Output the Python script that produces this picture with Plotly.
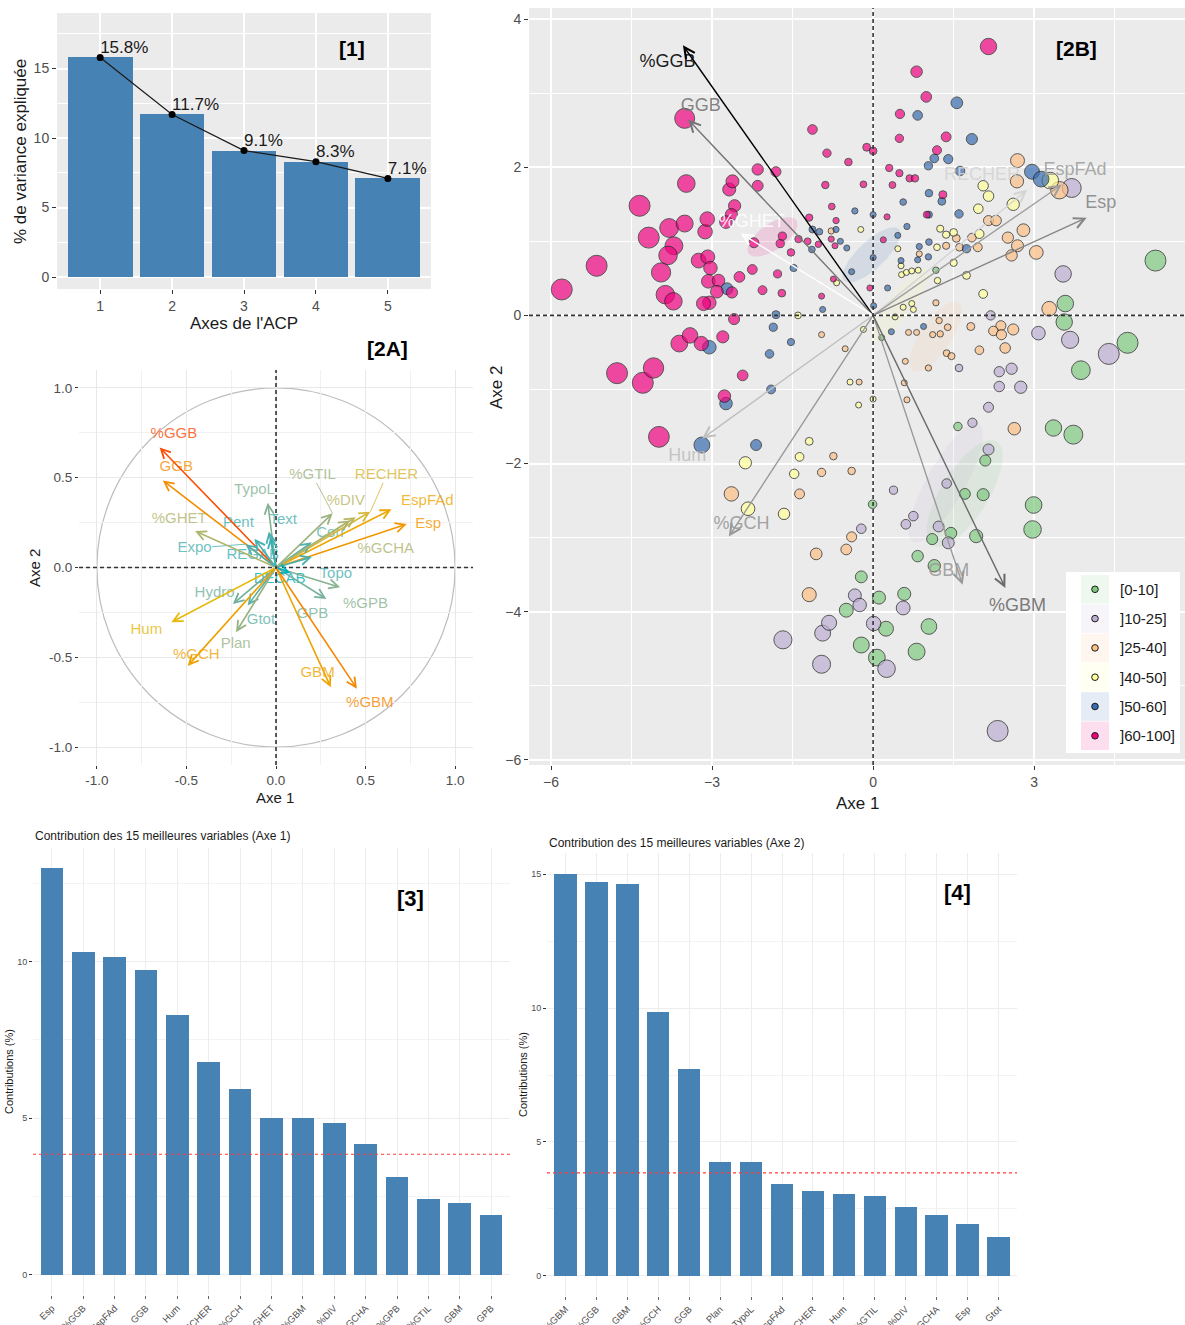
import numpy as np
import plotly.graph_objects as go

W, H = 1185, 1325
FONT = "Liberation Sans, Arial, sans-serif"

# ---------------- data ----------------
# [1] scree plot
eig_axes = [1, 2, 3, 4, 5]
eig_pct = [15.8, 11.7, 9.1, 8.3, 7.1]

# [2A] variable coordinates on Axe 1 / Axe 2
var_names = ["%GGB", "GGB", "%GHET", "Expo", "Pent", "TypoL", "Text", "REGAB",
             "%GTIL", "RECHER", "%DIV", "EspFAd", "Esp", "Corr", "%GCHA", "Topo",
             "%GPB", "GPB", "DECAB", "Hydro", "Gtot", "Plan", "Hum", "%GCH",
             "GBM", "%GBM"]
var_x = [-0.650, -0.632, -0.452, -0.170, -0.120, -0.046, -0.040, -0.030,
         0.316, 0.527, 0.445, 0.645, 0.730, 0.200, 0.413, 0.200,
         0.358, 0.281, 0.080, -0.241, -0.158, -0.223, -0.584, -0.493,
         0.306, 0.452]
var_y = [0.669, 0.485, 0.203, 0.130, 0.160, 0.360, 0.200, 0.170,
         0.302, 0.311, 0.280, 0.324, 0.242, 0.140, 0.262, 0.058,
         -0.110, -0.175, -0.030, -0.203, -0.211, -0.360, -0.305, -0.548,
         -0.667, -0.675]

# [3] contributions to Axe 1
contrib1_names = ["Esp", "%GGB", "EspFAd", "GGB", "Hum", "RECHER", "%GCH", "%GHET",
                  "%GBM", "%DIV", "%GCHA", "%GPB", "%GTIL", "GBM", "GPB"]
contrib1_vals = [12.98, 10.31, 10.15, 9.73, 8.31, 6.78, 5.92, 4.99,
                 4.99, 4.83, 4.16, 3.13, 2.43, 2.29, 1.92]

# [4] contributions to Axe 2
contrib2_names = ["%GBM", "%GGB", "GBM", "%GCH", "GGB", "Plan", "TypoL", "EspFAd",
                  "RECHER", "Hum", "%GTIL", "%DIV", "%GCHA", "Esp", "Gtot"]
contrib2_vals = [15.0, 14.72, 14.63, 9.87, 7.73, 4.26, 4.26, 3.45,
                 3.18, 3.05, 3.00, 2.57, 2.26, 1.92, 1.47]
contrib_expected = 100 / 26

# [2B] individuals, grouped by class
groups = ["[0-10]", "]10-25]", "]25-40]", "]40-50]", "]50-60]", "]60-100]"]
group_colors = ["#7FC97F", "#BEAED4", "#FDC086", "#FFFF99", "#386CB0", "#F0027F"]

g0_x = [5.26, 3.58, 3.56, 1.17, -0.50, -0.22, -0.22, 4.74, 3.87, 3.36, 3.73, 1.58, 2.09, 2.05, 1.71,
        2.99, 2.97, 1.92, 1.45, 1.10, 0.83, 1.14, -0.01, 0.11, 0.58, 1.04, 0.24, 0.81, 0.07, 0.16]
g0_y = [0.74, 0.16, -0.09, 0.61, -3.98, -3.53, -4.45, -0.37, -0.74, -1.52, -1.61, -1.50, -1.96, -2.42, -2.41,
        -2.56, -2.89, -2.98, -2.94, -3.02, -3.25, -3.38, -2.55, -3.81, -3.76, -4.20, -4.23, -4.54, -4.62, -0.30]

g1_x = [3.70, 3.54, 2.19, -1.68, -0.96, -0.94, -0.82, -0.34, -0.25, -0.22, 3.08, 3.67, 4.39, 2.35, 2.58,
        2.35, 2.75, 2.15, 1.85, 1.60, 2.15, 1.37, 0.38, 0.75, 0.61, 1.22, 1.40, 0.56, 0.01, 0.25, 2.32]
g1_y = [1.72, 0.56, 0.00, -4.38, -4.71, -4.29, -4.15, -3.78, -3.91, -2.88, -0.24, -0.33, -0.52, -0.76, -0.72,
        -0.96, -0.97, -1.24, -1.45, -0.71, -1.81, -2.27, -2.36, -2.71, -2.82, -2.85, -3.07, -3.95, -4.16, -4.77, -5.61]

g2_x = [-0.78, 2.69, 2.68, 3.47, 2.15, 2.29, 2.80, 2.51, 2.69, 2.58, 3.04, 1.84, 1.95, 1.61, 1.55, 1.36, 0.86,
        1.17, 3.28, 1.23, -2.64, -1.37, -0.74, -0.96, -0.40, -1.06, -0.50, -0.40, -1.19, -0.96, -0.52, -0.26,
        2.61, 2.38, 2.24, 2.39, 2.46, 1.98, 1.82, 1.39, 1.25, 1.11, 1.37, 1.46, 1.03, 0.60, 0.58, 0.63, 2.63,
        0.66, 0.81]
g2_y = [1.14, 2.09, 1.81, 1.69, 1.28, 1.28, 1.15, 1.05, 0.94, 0.81, 0.85, 1.05, 0.92, 0.92, 1.04, 0.94, 0.83,
        0.17, 0.09, -0.07, -2.41, -2.41, -1.90, -2.12, -2.10, -3.22, -3.16, -2.99, -3.77, -0.26, -0.45, -0.90,
        -0.19, -0.14, -0.21, -0.26, -0.44, -0.47, -0.15, -0.16, -0.25, -0.26, -0.51, -0.55, -0.71, -0.62, -0.91,
        -1.14, -1.53, -0.23, -0.23]

g3_x = [-0.23, -0.68, -1.40, 2.05, 2.15, 1.96, 2.61, 3.30, 1.25, 1.36, 1.50, 1.98, 1.19, 1.50, 1.20, 1.74,
        2.05, 0.46, 0.52, 0.53, 0.62, 0.72, 0.84, 0.56, 0.72, 0.41, 0.75, -2.38, -2.33, -1.66, -1.19, -1.37,
        -1.47, -0.43, -0.27, -0.18, 0.00]
g3_y = [1.16, 0.44, 0.00, 1.75, 1.61, 1.44, 1.50, 1.82, 1.17, 1.09, 1.12, 1.10, 0.92, 0.71, 0.47, 0.54,
        0.29, 0.90, 0.67, 0.55, 0.58, 0.60, 0.61, 0.11, 0.16, -0.02, 0.08, -1.99, -2.61, -2.68, -1.70, -1.91,
        -2.14, -0.90, -1.21, -0.19, -1.13]

g4_x = [-2.72, -1.13, -1.00, -0.69, -0.61, -0.49, -1.14, -0.34, 0.00, -1.48, -0.40, -1.81, -0.94, 0.00,
        1.56, 0.83, 1.84, 1.14, 1.40, 1.03, 1.62, 2.96, 3.13, 1.04, 1.28, 0.56, 1.04, 1.60, 0.63, 0.46,
        0.86, 1.04, 1.03, 0.83, 0.52, 1.74, 0.27, 0.01, -3.05, -2.74, -3.19, -2.18, -1.90, -1.93, -1.86,
        -1.53, 0.94, 0.34]
g4_y = [0.36, 1.16, 1.13, 1.16, 1.00, 0.91, 0.89, 1.41, 1.36, 0.64, 0.59, 0.01, 0.08, 0.78,
        2.87, 2.70, 2.38, 2.12, 2.11, 2.02, 1.95, 1.94, 1.84, 1.65, 1.54, 1.53, 1.36, 1.37, 1.20, 1.08,
        0.93, 0.99, 0.79, 0.75, 0.74, 0.90, 0.37, 0.13, -0.43, -1.19, -1.75, -1.75, -1.00, -0.52, -0.16,
        -0.36, -0.15, -0.22]

g5_x = [-5.80, -5.15, -4.35, -4.18, -3.80, -3.51, -3.48, -3.51, -3.71, -3.82, -3.95, -3.87, -3.72, -3.25,
        -3.08, -3.03, -3.07, -2.88, -2.91, -3.05, -3.16, -3.13, -3.09, -2.68, -2.62, -2.58, -2.64, -2.74,
        -2.15, -2.15, -1.81, -1.13, -0.86, -0.46, -0.89, -0.18, -0.77, -1.19, -0.69, -2.22, -2.49, -2.25,
        -2.06, -1.70, -1.78, -2.59, -2.63, -1.73, -1.69, -1.53, -1.39, -1.22, -1.02, -0.78, -0.71, -0.74,
        -0.96, -0.06, -0.12, 0.00, 2.15, 0.81, 0.99, 0.50, 0.49, 1.36, 1.19, 0.30, 0.49, 0.36, 0.68, 0.78,
        1.30, 0.26, 1.00, 0.19, -4.77, -4.29, -4.09, -3.61, -3.41, -3.20, -2.80, -2.43, -2.77, -3.99]
g5_y = [0.35, 0.67, 1.48, 1.05, 1.18, 1.24, 1.78, 2.66, 0.94, 0.81, 0.58, 0.28, 0.19, 0.74,
        0.79, 0.64, 0.46, 0.47, 0.32, 0.17, 0.16, 1.13, 1.30, 1.70, 1.81, 1.48, 1.36, 1.26,
        1.97, 1.75, 1.94, 2.51, 2.19, 2.07, 1.76, 1.77, 1.47, 1.32, 1.28, 0.98, 0.52, 0.62,
        0.34, 0.30, 0.56, -0.05, 0.31, 0.97, 1.07, 0.85, 1.03, 1.00, 0.96, 1.03, 0.94, 0.49,
        0.26, 0.37, 2.27, 2.22, 3.63, 3.29, 2.95, 2.72, 2.39, 2.41, 2.23, 1.99, 1.92, 1.76, 1.85, 1.85,
        1.63, 1.33, 1.36, 1.02, -0.78, -0.91, -0.71, -0.38, -0.27, -0.38, -0.29, -0.81, -1.09, -1.64]

group_x = [g0_x, g1_x, g2_x, g3_x, g4_x, g5_x]
group_y = [g0_y, g1_y, g2_y, g3_y, g4_y, g5_y]

# variables drawn on the biplot and the scaling of their arrows
biplot_vars = ["%GGB", "GGB", "%GHET", "RECHER", "EspFAd", "Esp", "Hum", "%GCH", "GBM", "%GBM"]
biplot_scale = 5.45

# label placement (repelled positions)
label_pos_2a = {
    "%GGB": (-0.57, 0.74), "GGB": (-0.557, 0.556), "%GHET": (-0.54, 0.268), "Expo": (-0.455, 0.108),
    "Pent": (-0.21, 0.245), "TypoL": (-0.12, 0.43), "Text": (0.04, 0.262), "REGAB": (-0.13, 0.068),
    "%GTIL": (0.204, 0.513), "RECHER": (0.617, 0.513), "%DIV": (0.39, 0.37), "EspFAd": (0.845, 0.37),
    "Esp": (0.85, 0.24), "Corr": (0.306, 0.19), "%GCHA": (0.613, 0.104), "Topo": (0.334, -0.035),
    "%GPB": (0.5, -0.206), "GPB": (0.204, -0.262), "DECAB": (0.02, -0.065), "Hydro": (-0.343, -0.141),
    "Gtot": (-0.084, -0.296), "Plan": (-0.225, -0.43), "Hum": (-0.724, -0.348), "%GCH": (-0.445, -0.49),
    "GBM": (0.232, -0.589), "%GBM": (0.524, -0.755),
}
leader_2a = ["%GTIL", "RECHER", "Expo"]
label_pos_2b = {
    "%GGB": (-3.83, 3.42), "GGB": (-3.21, 2.82), "%GHET": (-2.26, 1.26), "RECHER": (2.03, 1.89),
    "EspFAd": (3.76, 1.96), "Esp": (4.24, 1.51), "Hum": (-3.46, -1.90), "%GCH": (-2.45, -2.82),
    "GBM": (1.41, -3.46), "%GBM": (2.69, -3.93),
}

# ---------------- colour helpers ----------------
_M = np.array([[0.4124, 0.3576, 0.1805], [0.2126, 0.7152, 0.0722], [0.0193, 0.1192, 0.9505]])
_WP = np.array([0.95047, 1.0, 1.08883])


def hex_rgb(h):
    return np.array([int(h[i:i + 2], 16) for i in (1, 3, 5)]) / 255.0


def rgb_to_lab(rgb):
    c = np.where(rgb <= 0.04045, rgb / 12.92, ((rgb + 0.055) / 1.055) ** 2.4)
    xyz = _M @ c / _WP
    f = np.where(xyz > 0.008856, np.cbrt(xyz), 7.787 * xyz + 16 / 116)
    return np.array([116 * f[1] - 16, 500 * (f[0] - f[1]), 200 * (f[1] - f[2])])


def lab_to_rgb(lab):
    L, a, b = lab
    fy = (L + 16) / 116
    f = np.array([fy + a / 500, fy, fy - b / 200])
    xyz = np.where(f ** 3 > 0.008856, f ** 3, (f - 16 / 116) / 7.787) * _WP
    c = np.clip(np.linalg.inv(_M) @ xyz, 0, 1)
    return np.clip(np.where(c <= 0.0031308, 12.92 * c, 1.055 * c ** (1 / 2.4) - 0.055), 0, 1)


def gradient(t, stops):
    labs = [rgb_to_lab(hex_rgb(s)) for s in stops]
    seg = np.clip(t, 0, 1) * (len(stops) - 1)
    i = min(int(seg), len(stops) - 2)
    u = seg - i
    return lab_to_rgb((1 - u) * labs[i] + u * labs[i + 1]) * 255


def rgba(rgb, a=1.0):
    return f"rgba({int(round(rgb[0]))},{int(round(rgb[1]))},{int(round(rgb[2]))},{a})"


def hex_rgba(h, a):
    r, g, b = (hex_rgb(h) * 255).astype(int)
    return f"rgba({r},{g},{b},{a})"


# ---------------- figure ----------------
fig = go.Figure()
annotations = []
shapes = []


def dom_x(a, b):
    return [a / W, b / W]


def dom_y(top, bottom):
    return [1 - bottom / H, 1 - top / H]


def paper_text(txt, x, y, size, angle=0, color="#000000", xanchor="center", bold=False):
    annotations.append(dict(text=f"<b>{txt}</b>" if bold else txt, x=x / W, y=1 - y / H,
                            xref="paper", yref="paper", showarrow=False, textangle=angle,
                            xanchor=xanchor, yanchor="middle",
                            font=dict(family=FONT, size=size, color=color)))


ZERO_DASH = "4px,3px"

# ---- [1] scree plot ----
fig.add_trace(go.Bar(x=eig_axes, y=eig_pct, width=0.9, marker=dict(color="#4682B4", line=dict(width=0)),
                     xaxis="x", yaxis="y", hoverinfo="skip"))
fig.add_trace(go.Scatter(x=eig_axes, y=eig_pct, mode="lines+markers",
                         line=dict(color="#1a1a1a", width=1.2), marker=dict(color="#000000", size=7),
                         xaxis="x", yaxis="y", hoverinfo="skip"))
fig.add_trace(go.Scatter(x=eig_axes, y=eig_pct, mode="text", text=[f"{v}%" for v in eig_pct],
                         textposition="top right", textfont=dict(family=FONT, size=17, color="#1a1a1a"),
                         xaxis="x", yaxis="y", hoverinfo="skip"))
shapes.append(dict(type="rect", xref="x domain", yref="y domain", x0=0, x1=1, y0=0, y1=1,
                   fillcolor="#EBEBEB", line=dict(width=0), layer="below"))

# ---- [2A] correlation circle ----
cos2 = np.array(var_x) ** 2 + np.array(var_y) ** 2
t_var = (cos2 - cos2.min()) / (cos2.max() - cos2.min())
var_rgb = [gradient(t, ["#00AFBB", "#E7B800", "#FC4E07"]) for t in t_var]

shapes.append(dict(type="circle", xref="x2", yref="y2", x0=-1, x1=1, y0=-1, y1=1,
                   line=dict(color="#BDBDBD", width=1.2), layer="below"))
shapes.append(dict(type="line", xref="x2", yref="y2 domain", x0=0, x1=0, y0=0, y1=1,
                   line=dict(color="#333333", width=1.6, dash=ZERO_DASH)))
shapes.append(dict(type="line", xref="x2 domain", yref="y2", x0=0, x1=1, y0=0, y1=0,
                   line=dict(color="#333333", width=1.6, dash=ZERO_DASH)))

for name, x, y, rgb in zip(var_names, var_x, var_y, var_rgb):
    annotations.append(dict(x=x, y=y, ax=0, ay=0, xref="x2", yref="y2", axref="x2", ayref="y2",
                            text="", showarrow=True, arrowhead=5, arrowsize=1.15, arrowwidth=1.6,
                            arrowcolor=rgba(rgb), standoff=0, startstandoff=0))
    if name in leader_2a:
        lx, ly = label_pos_2a[name]
        dx, dy = x - lx, y - ly
        hw = 0.5 * len(name) * 0.58 * 15 / 179.5
        hh = 0.5 * 15 / 179.5
        k = min(hw / abs(dx) if dx else 9, hh / abs(dy) if dy else 9)
        fig.add_trace(go.Scatter(x=[lx + k * dx, x], y=[ly + k * dy, y], mode="lines",
                                 line=dict(color=rgba(rgb, 0.8), width=1), xaxis="x2", yaxis="y2",
                                 hoverinfo="skip"))

fig.add_trace(go.Scatter(x=[label_pos_2a[n][0] for n in var_names], y=[label_pos_2a[n][1] for n in var_names],
                         mode="text", text=var_names,
                         textfont=dict(family=FONT, size=15, color=[rgba(c, 0.8) for c in var_rgb]),
                         xaxis="x2", yaxis="y2", hoverinfo="skip"))

# ---- [2B] biplot ----
shapes.append(dict(type="rect", xref="x3 domain", yref="y3 domain", x0=0, x1=1, y0=0, y1=1,
                   fillcolor="#EBEBEB", line=dict(width=0), layer="below"))

chi2_95 = 5.991
theta = np.linspace(0, 2 * np.pi, 80)
for gx, gy, col in zip(group_x, group_y, group_colors):
    pts = np.column_stack([gx, gy])
    m = pts.mean(axis=0)
    L = np.linalg.cholesky(np.cov(pts.T))
    ell = m[:, None] + np.sqrt(chi2_95 / len(pts)) * (L @ np.vstack([np.cos(theta), np.sin(theta)]))
    fig.add_trace(go.Scatter(x=ell[0], y=ell[1], mode="lines", fill="toself", fillcolor=hex_rgba(col, 0.13),
                             line=dict(width=0), xaxis="x3", yaxis="y3", hoverinfo="skip"))

for gx, gy, col in zip(group_x, group_y, group_colors):
    ax_, ay_ = np.array(gx), np.array(gy)
    sizes = np.clip(5 + 0.9 * ax_ ** 2 + 0.55 * ay_ ** 2, 6, 21)
    fig.add_trace(go.Scatter(x=gx, y=gy, mode="markers",
                             marker=dict(color=col, size=sizes, line=dict(color="#1a1a1a", width=1)),
                             xaxis="x3", yaxis="y3", hoverinfo="skip"))

bx = np.array([var_x[var_names.index(n)] for n in biplot_vars])
by = np.array([var_y[var_names.index(n)] for n in biplot_vars])
bc = bx ** 2 + by ** 2
tb = (bc - bc.min()) / (bc.max() - bc.min())
b_grey = [255 * (1 - t) ** 0.8 for t in tb]
for n, x, y, g in zip(biplot_vars, bx, by, b_grey):
    annotations.append(dict(x=biplot_scale * x, y=biplot_scale * y, ax=0, ay=0, xref="x3", yref="y3",
                            axref="x3", ayref="y3", text="", showarrow=True, arrowhead=5, arrowsize=1.5,
                            arrowwidth=1.4, arrowcolor=rgba([g, g, g]), standoff=0, startstandoff=0))
fig.add_trace(go.Scatter(x=[label_pos_2b[n][0] for n in biplot_vars], y=[label_pos_2b[n][1] for n in biplot_vars],
                         mode="text", text=biplot_vars,
                         textfont=dict(family=FONT, size=18, color=[rgba([g, g, g], 0.9) for g in b_grey]),
                         xaxis="x3", yaxis="y3", hoverinfo="skip"))

shapes.append(dict(type="line", xref="x3", yref="y3 domain", x0=0, x1=0, y0=0, y1=1,
                   line=dict(color="#333333", width=1.6, dash=ZERO_DASH)))
shapes.append(dict(type="line", xref="x3 domain", yref="y3", x0=0, x1=1, y0=0, y1=0,
                   line=dict(color="#333333", width=1.6, dash=ZERO_DASH)))

# legend of the biplot
shapes.append(dict(type="rect", xref="paper", yref="paper", x0=1066 / W, x1=1180 / W,
                   y0=1 - 753 / H, y1=1 - 572 / H, fillcolor="white", line=dict(width=0)))
for i, (g, col) in enumerate(zip(groups, group_colors)):
    yc = 589.3 + 29.3 * i
    shapes.append(dict(type="rect", xref="paper", yref="paper", x0=1081 / W, x1=1109 / W,
                       y0=1 - (yc + 14.3) / H, y1=1 - (yc - 14.3) / H,
                       fillcolor=hex_rgba(col, 0.13), line=dict(width=0)))
    shapes.append(dict(type="circle", xref="paper", yref="paper", x0=(1095 - 3.3) / W, x1=(1095 + 3.3) / W,
                       y0=1 - (yc + 3.3) / H, y1=1 - (yc - 3.3) / H,
                       fillcolor=col, line=dict(color="#1a1a1a", width=1)))
    paper_text(g, 1118, yc, 15, xanchor="left", color="#1a1a1a")

# ---- [3] and [4] contribution bars ----
fig.add_trace(go.Bar(x=contrib1_names, y=contrib1_vals, width=0.72, marker=dict(color="#4682B4", line=dict(width=0)),
                     xaxis="x4", yaxis="y4", hoverinfo="skip"))
fig.add_trace(go.Bar(x=contrib2_names, y=contrib2_vals, width=0.72, marker=dict(color="#4682B4", line=dict(width=0)),
                     xaxis="x5", yaxis="y5", hoverinfo="skip"))
for ax in ("4", "5"):
    shapes.append(dict(type="line", xref=f"x{ax} domain", yref=f"y{ax}", x0=0, x1=1,
                       y0=contrib_expected, y1=contrib_expected,
                       line=dict(color="#FF3B3B", width=1.2, dash="3px,3px")))

# ---------------- axes ----------------
tick_grey = "#4D4D4D"


def gg_axis(domain, rng, tickvals, anchor, ticktext=None, gridcolor="white", gridwidth=1.6,
            minor=None, minorcolor=None, minorwidth=0.8, size=14, ticklen=4):
    d = dict(domain=domain, range=rng, tickmode="array", tickvals=tickvals, anchor=anchor,
             ticks="outside", ticklen=ticklen, tickwidth=1, tickcolor="#333333", automargin=False,
             showgrid=True, gridcolor=gridcolor, gridwidth=gridwidth, zeroline=False, showline=False,
             tickfont=dict(family=FONT, size=size, color=tick_grey), fixedrange=True)
    if ticktext is not None:
        d["ticktext"] = ticktext
    if minor is not None:
        d["minor"] = dict(tickmode="array", tickvals=minor, showgrid=True,
                          gridcolor=minorcolor or gridcolor, gridwidth=minorwidth, ticks="")
    return d


def cat_axis(domain, anchor, cats):
    return dict(domain=domain, range=[-0.6, 14.6], anchor=anchor, type="category",
                categoryorder="array", categoryarray=cats, tickangle=-45, automargin=False,
                ticks="outside", ticklen=3, tickcolor="#666666", showgrid=True, gridcolor="#EDEDED",
                gridwidth=1, zeroline=False, tickfont=dict(family=FONT, size=9.5, color=tick_grey),
                fixedrange=True)


circ_ticks = [-1, -0.5, 0, 0.5, 1]
circ_text = ["-1.0", "-0.5", "0.0", "0.5", "1.0"]

fig.update_layout(
    width=W, height=H, margin=dict(l=0, r=0, t=0, b=0, autoexpand=False),
    paper_bgcolor="white", plot_bgcolor="white",
    showlegend=False, hovermode=False, bargap=0,
    xaxis=gg_axis(dom_x(57, 431), [0.4, 5.6], eig_axes, "y"),
    yaxis=gg_axis(dom_y(13, 289), [-0.86, 19.0], [0, 5, 10, 15], "x", minor=[2.5, 7.5, 12.5, 17.5]),
    xaxis2=gg_axis(dom_x(79, 473), [-1.1, 1.1], circ_ticks, "y2", ticktext=circ_text, gridcolor="#E8E8E8",
                   gridwidth=1.2, minor=[-0.75, -0.25, 0.25, 0.75], minorcolor="#F1F1F1", size=13.5, ticklen=3),
    yaxis2=gg_axis(dom_y(370, 765), [-1.1, 1.1], circ_ticks, "x2", ticktext=circ_text, gridcolor="#E8E8E8",
                   gridwidth=1.2, minor=[-0.75, -0.25, 0.25, 0.75], minorcolor="#F1F1F1", size=13.5, ticklen=3),
    xaxis3=gg_axis(dom_x(529, 1185), [-6.41, 5.81], [-6, -3, 0, 3], "y3", minor=[-4.5, -1.5, 1.5, 4.5], size=14),
    yaxis3=gg_axis(dom_y(8, 765), [-6.07, 4.15], [-6, -4, -2, 0, 2, 4], "x3", minor=[-5, -3, -1, 1, 3], size=14),
    xaxis4=cat_axis(dom_x(33, 510), "y4", contrib1_names),
    yaxis4=gg_axis(dom_y(848, 1295), [-0.65, 13.63], [0, 5, 10], "x4", gridcolor="#EDEDED", gridwidth=1,
                   minor=[2.5, 7.5, 12.5], minorcolor="#F3F3F3", size=9, ticklen=3),
    xaxis5=cat_axis(dom_x(547, 1017), "y5", contrib2_names),
    yaxis5=gg_axis(dom_y(853, 1296), [-0.75, 15.79], [0, 5, 10, 15], "x5", gridcolor="#EDEDED", gridwidth=1,
                   minor=[2.5, 7.5, 12.5], minorcolor="#F3F3F3", size=9, ticklen=3),
)

# ---------------- titles and panel tags ----------------
paper_text("Axes de l'ACP", 244, 323, 17, color="#1a1a1a")
paper_text("% de variance expliquée", 20, 152, 17, angle=-90, color="#1a1a1a")
paper_text("[1]", 352, 48, 21, bold=True)

paper_text("Axe 1", 275, 797, 15, color="#1a1a1a")
paper_text("Axe 2", 35, 568, 15, angle=-90, color="#1a1a1a")
paper_text("[2A]", 387, 348, 21, bold=True)

paper_text("Axe 1", 857, 803, 17, color="#1a1a1a")
paper_text("Axe 2", 496, 387, 17, angle=-90, color="#1a1a1a")
paper_text("[2B]", 1076, 48, 21, bold=True)

paper_text("Contribution des 15 meilleures variables (Axe 1)", 33, 836, 12, xanchor="left", color="#1a1a1a")
paper_text("Contributions (%)", 9, 1072, 11, angle=-90, color="#1a1a1a")
paper_text("[3]", 410, 898, 22, bold=True)

paper_text("Contribution des 15 meilleures variables (Axe 2)", 547, 843, 12, xanchor="left", color="#1a1a1a")
paper_text("Contributions (%)", 523, 1075, 11, angle=-90, color="#1a1a1a")
paper_text("[4]", 957, 892, 22, bold=True)

fig.update_layout(annotations=annotations, shapes=shapes)
fig.write_html("out.html")
